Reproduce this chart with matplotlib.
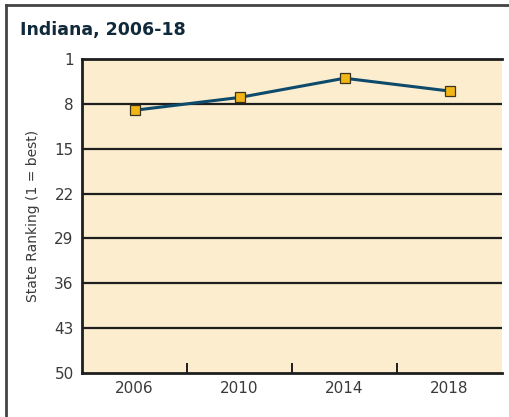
import matplotlib
matplotlib.use("Agg")
import matplotlib.pyplot as plt
from matplotlib.lines import Line2D

years = ["2006", "2010", "2014", "2018"]
ranks = [9, 7, 4, 6]
yticks = [1, 8, 15, 22, 29, 36, 43, 50]

fig = plt.figure(figsize=(5.09, 4.17), dpi=100)
fig.patch.set_facecolor("white")

ax = fig.add_axes([82/509, 1-373/417, (502-82)/509, (373-59)/417])
ax.set_facecolor("#FCEDCF")
x = list(range(len(years)))
ax.plot(x, ranks, color="#0E4A6B", lw=2.2, marker="s", markersize=7,
        markerfacecolor="#F2B516", markeredgecolor="#3a3320", markeredgewidth=0.9, zorder=5)
ax.set_xlim(-0.5, len(years) - 0.5)
ax.set_ylim(50, 1)
ax.set_yticks(yticks)
ax.set_yticklabels([str(v) for v in yticks], fontsize=11, color="#3a3a3a")
ax.tick_params(axis="y", length=0, pad=6)
for v in yticks[1:-1]:
    ax.axhline(v, color="#1e1e1e", lw=1.6, zorder=2)
ax.set_xticks(x)
ax.set_xticklabels(years, fontsize=11, color="#3a3a3a")
ax.tick_params(axis="x", length=0, pad=6)
ax.set_xticks([0.5, 1.5, 2.5], minor=True)
ax.tick_params(axis="x", which="minor", direction="in", length=7, width=1.4, color="#1e1e1e")
for s in ["top", "left", "bottom"]:
    ax.spines[s].set_color("#1e1e1e")
    ax.spines[s].set_linewidth(2)
ax.spines["right"].set_visible(False)
ax.set_ylabel("State Ranking (1 = best)", fontsize=10, color="#3a3a3a", labelpad=10)

fig.text(20/509, 1-30/417, "Indiana, 2006-18", fontsize=12.5, fontweight="heavy",
         color="#102A3C", va="center", ha="left")

fig.add_artist(Line2D([6/509, 1], [1-5/417, 1-5/417], transform=fig.transFigure, color="#444444", lw=2))
fig.add_artist(Line2D([6/509, 6/509], [0, 1-5/417], transform=fig.transFigure, color="#444444", lw=2))

fig.savefig("out.png", dpi=100)
